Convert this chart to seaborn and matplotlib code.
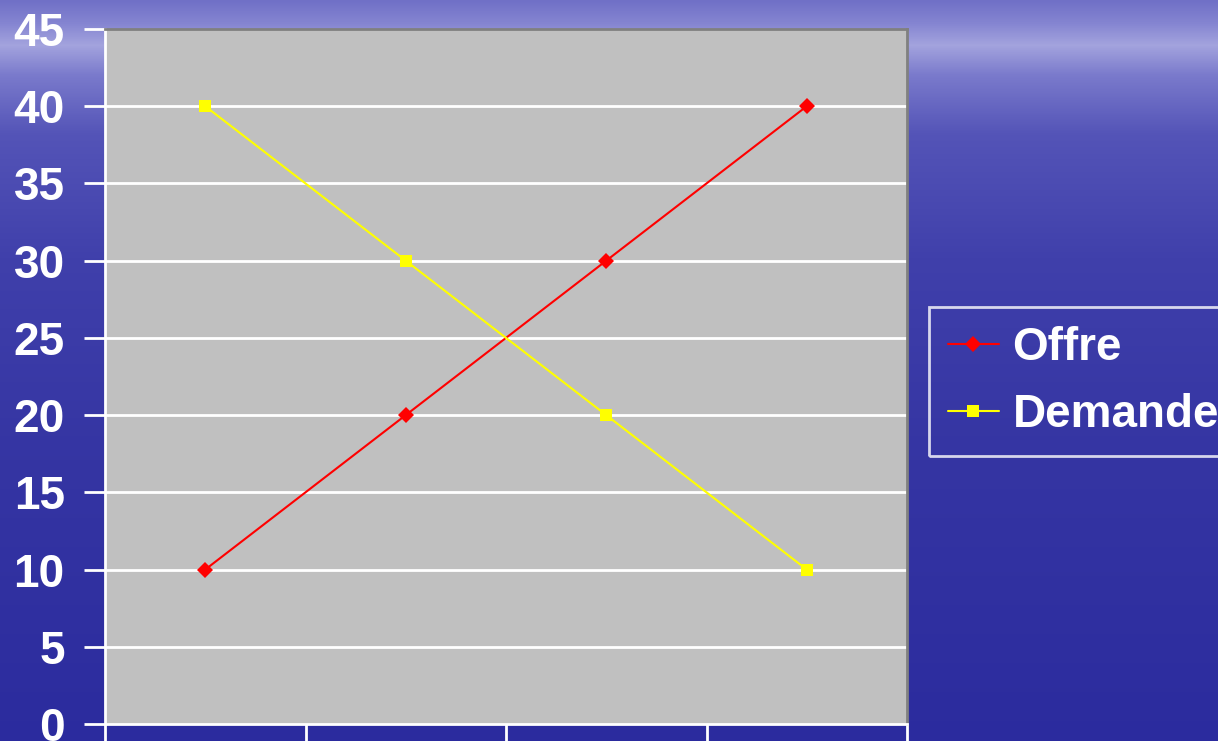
import numpy as np
import pandas as pd
import matplotlib
matplotlib.use("Agg")
import matplotlib.pyplot as plt
import seaborn as sns

categories = [1, 2, 3, 4]
offre = [10, 20, 30, 40]
demande = [40, 30, 20, 10]
y_ticks = [0, 5, 10, 15, 20, 25, 30, 35, 40, 45]

df = pd.DataFrame({
    "pos": list(range(len(categories))) * 2,
    "valeur": offre + demande,
    "serie": ["Offre"] * len(offre) + ["Demande"] * len(demande),
})

sns.set_theme(style="white")
plt.rcParams["font.family"] = ["Liberation Sans", "DejaVu Sans"]

fig = plt.figure(figsize=(12.18, 7.41), dpi=100)

# blue background with a lighter haze band near the top
bg = fig.add_axes([0, 0, 1, 1], zorder=0)
stops_y = np.array([0.0, 0.03, 0.06, 0.10, 0.18, 0.35, 0.6, 1.0])
stops_c = np.array([
    [0.44, 0.44, 0.78],
    [0.52, 0.52, 0.82],
    [0.64, 0.64, 0.87],
    [0.48, 0.48, 0.80],
    [0.33, 0.33, 0.72],
    [0.25, 0.25, 0.67],
    [0.21, 0.21, 0.64],
    [0.17, 0.17, 0.62],
])
ys = np.linspace(0, 1, 400)
grad = np.stack([np.interp(ys, stops_y, stops_c[:, k]) for k in range(3)], axis=1)
img = np.repeat(grad[:, None, :], 10, axis=1)
bg.imshow(img, aspect="auto", extent=[0, 1, 0, 1], origin="upper")
bg.set_axis_off()

ax = fig.add_axes([105 / 1218, 17 / 741, (907 - 105) / 1218, (724 - 29) / 741], zorder=1)
ax.set_facecolor("#c0c0c0")

sns.lineplot(
    data=df, x="pos", y="valeur", hue="serie", style="serie",
    palette={"Offre": "#ff0000", "Demande": "#ffff00"},
    markers={"Offre": "D", "Demande": "s"}, dashes=False,
    markersize=8, markeredgewidth=0, linewidth=1.5, ax=ax, legend=True,
)

ax.set_xlim(-0.5, len(categories) - 0.5)
ax.set_ylim(0, 45)
ax.set_yticks(y_ticks)
ax.set_yticklabels([str(v) for v in y_ticks], color="white", fontsize=33, fontweight="bold")
ax.set_xticks(np.arange(-0.5, len(categories), 1.0))
ax.set_xticklabels([])
ax.tick_params(axis="y", left=True, length=15, width=2, color="white", pad=14, direction="out")
ax.tick_params(axis="x", bottom=True, length=18, width=2, color="white", direction="out")
ax.set_xlabel("")
ax.set_ylabel("")

for v in y_ticks[1:-1]:
    ax.axhline(v, color="white", linewidth=2, zorder=1)

for side in ("left", "bottom"):
    ax.spines[side].set_color("white")
    ax.spines[side].set_linewidth(2)
for side in ("top", "right"):
    ax.spines[side].set_color("#808080")
    ax.spines[side].set_linewidth(2)

handles, labels = ax.get_legend_handles_labels()
ax.get_legend().remove()
leg = fig.legend(
    handles, labels, loc="upper left", bbox_to_anchor=(929 / 1218, 1 - 307 / 741),
    frameon=True, fancybox=False, edgecolor="white", facecolor="none",
    prop={"size": 33, "weight": "bold"}, handlelength=1.1, handletextpad=0.3,
    borderpad=0.42, labelspacing=0.5, borderaxespad=0,
)
leg.get_frame().set_linewidth(2)
for t in leg.get_texts():
    t.set_color("white")

fig.savefig("out.png", dpi=100)
